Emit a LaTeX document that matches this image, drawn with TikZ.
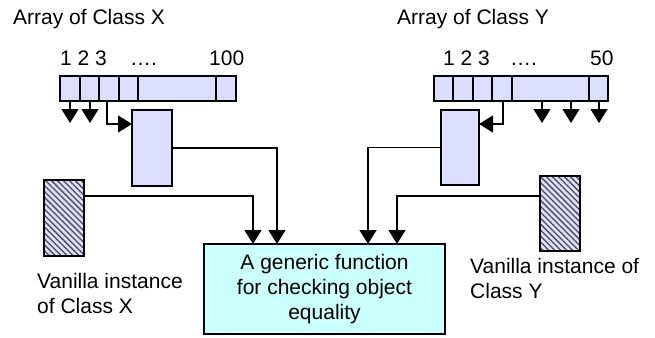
\documentclass[tikz,border=0pt]{standalone}
\usepackage{fontspec}
\setmainfont{Liberation Sans}
\usetikzlibrary{arrows.meta,patterns.meta}
\definecolor{lav}{HTML}{DDDDFF}
\definecolor{aqua}{HTML}{CCFFFF}
\begin{document}
\begin{tikzpicture}[x=1pt,y=-1pt,
  font=\fontsize{21}{25}\selectfont,
  cell/.style={draw, fill=lav, line width=1.4pt, minimum height=25pt, inner sep=0pt, outer sep=0pt},
  pbox/.style={draw, fill=lav, line width=1.4pt, inner sep=0pt, outer sep=0pt},
  hatch/.style={draw, line width=1.4pt, inner sep=0pt, outer sep=0pt, preaction={fill=lav},
    pattern={Lines[angle=-45,distance=4.2pt,line width=1.3pt]}, pattern color=black!70},
  fbox/.style={draw, fill=aqua, line width=1.4pt, inner sep=0pt, outer sep=0pt, align=center},
  lbl/.style={inner sep=0pt, anchor=base west},
  link/.style={line width=1.2pt},
  arr/.style={link, -{Triangle[width=17pt,length=14pt]}}]
\useasboundingbox (0,0) rectangle (655,337);

% titles and index labels
\node[lbl] (tx) at (13,25) {Array of Class X};
\node[lbl] (ty) at (397,25) {Array of Class Y};
\node[lbl] (ix1) at (60,65) {1 2 3};
\node[lbl] (ix2) at (130,65) {….};
\node[lbl] (ix3) at (209,65) {100};
\node[lbl] (iy1) at (443,65) {1 2 3};
\node[lbl] (iy2) at (510,65) {….};
\node[lbl] (iy3) at (590,65) {50};

% left array
\node[cell, minimum width=20pt] (x1) at (70,88.5) {};
\node[cell, minimum width=19pt] (x2) at (89.5,88.5) {};
\node[cell, minimum width=20pt] (x3) at (109,88.5) {};
\node[cell, minimum width=19pt] (x4) at (128.5,88.5) {};
\node[cell, minimum width=78pt] (x5) at (177,88.5) {};
\node[cell, minimum width=20pt] (x6) at (226,88.5) {};

% right array
\node[cell, minimum width=19pt] (y1) at (443.5,88.5) {};
\node[cell, minimum width=20pt] (y2) at (463,88.5) {};
\node[cell, minimum width=19pt] (y3) at (482.5,88.5) {};
\node[cell, minimum width=20pt] (y4) at (502,88.5) {};
\node[cell, minimum width=77pt] (y5) at (550.5,88.5) {};
\node[cell, minimum width=19pt] (y6) at (598.5,88.5) {};

% element boxes
\node[pbox, minimum width=40pt, minimum height=76pt] (bx) at (152,148) {};
\node[pbox, minimum width=38pt, minimum height=75pt] (by) at (460,147.5) {};

% vanilla instances
\node[hatch, minimum width=40pt, minimum height=76pt] (vx) at (64,218) {};
\node[hatch, minimum width=40pt, minimum height=75pt] (vy) at (560,213.5) {};

% function box
\node[fbox, minimum width=241pt, minimum height=90pt] (fx) at (324.5,289)
  {A generic function\\for checking object\\equality};

% vanilla labels (base anchor = last line)
\node[lbl, align=left] (lx) at (37,313) {Vanilla instance\\of Class X};
\node[lbl, align=left] (ly) at (470,298) {Vanilla instance of\\Class Y};

% free ends of the dangling pointers
\coordinate (dx1) at (70,123);
\coordinate (dx2) at (90,123);
\coordinate (dy1) at (542,123);
\coordinate (dy2) at (571,123);
\coordinate (dy3) at (599,123);

\draw[arr] (x1.south) -- (dx1);
\draw[arr] ([xshift=0.5pt]x2.south) -- (dx2);
\draw[arr] ([xshift=-8.5pt]y5.south) -- (dy1);
\draw[arr] ([xshift=20.5pt]y5.south) -- (dy2);
\draw[arr] ([xshift=0.5pt]y6.south) -- (dy3);

\draw[arr] ([xshift=-2pt]x3.south) |- ([yshift=-14pt]bx.north west);
\draw[arr] ([xshift=1pt]y4.south) |- ([yshift=-14pt]by.north east);

\draw[arr] (bx.east) -| ([xshift=73pt]fx.north west);
\draw[arr] ([yshift=-16pt]vx.north east) -| ([xshift=49pt]fx.north west);
\draw[arr] (by.west) -| ([xshift=164pt]fx.north west);
\draw[arr] ([yshift=-20pt]vy.north west) -| ([xshift=193pt]fx.north west);
\end{tikzpicture}
\end{document}
